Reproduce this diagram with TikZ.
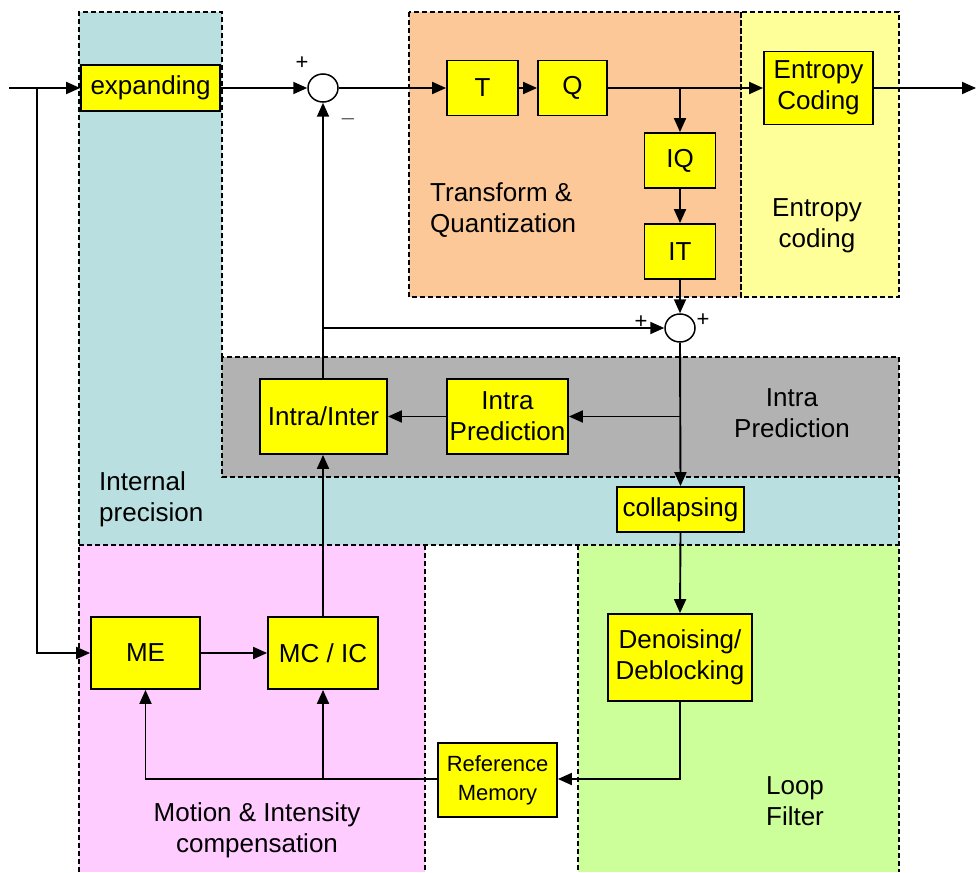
\documentclass[tikz,border=0pt]{standalone}
\usepackage{fontspec}
\setmainfont{Liberation Sans}
\usetikzlibrary{arrows.meta,shapes.geometric}
\definecolor{cBlue}{RGB}{185,223,225}
\definecolor{cOrange}{RGB}{252,200,152}
\definecolor{cEnt}{RGB}{255,255,153}
\definecolor{cGray}{RGB}{178,178,178}
\definecolor{cPink}{RGB}{255,204,255}
\definecolor{cGreen}{RGB}{204,255,153}
\definecolor{cBox}{RGB}{255,255,0}
\tikzset{
  blk/.style={draw=black, line width=1.8pt, fill=cBox, inner sep=0pt, align=center,
    font=\fontsize{26}{31}\selectfont},
  sumc/.style={draw=black, line width=1.5pt, fill=white, ellipse, minimum width=30pt, minimum height=28pt, inner sep=0pt},
  conn/.style={line width=1.9pt, -{Triangle[length=14pt,width=12pt]}},
  region/.style={line width=1.2pt, dash pattern=on 5pt off 3pt},
  lbl/.style={font=\fontsize{26}{31}\selectfont, align=center, inner sep=0pt},
  pm/.style={font=\fontsize{22}{22}\selectfont, inner sep=0pt}
}
\begin{document}
\begin{tikzpicture}[x=1pt,y=-1pt]
\useasboundingbox (0,0) rectangle (976,872);
% region fills
\fill[cBlue] (79,12) -- (222,12) -- (222,357) -- (899,357) -- (899,545) -- (79,545) -- cycle;
\fill[cGray] (222,357) rectangle (899,477);
\fill[cOrange] (409,12) rectangle (741,297);
\fill[cEnt] (741,12) rectangle (899,297);
\fill[cPink] (79,545) rectangle (425,872);
\fill[cGreen] (578,545) rectangle (899,872);
% region borders
\draw[region] (79,872) -- (79,12) -- (222,12) -- (222,357);
\draw[region] (222,357) rectangle (899,477);
\draw[region] (899,477) -- (899,872);
\draw[region] (79,545) -- (899,545);
\draw[region] (425,545) -- (425,872);
\draw[region] (578,545) -- (578,872);
\draw[region] (409,12) rectangle (741,297);
\draw[region] (741,12) rectangle (899,297);
% region labels
\node[lbl, anchor=west, align=left] (lInt) at (99,499) {Internal\\precision};
\node[lbl, anchor=west, align=left] (lTQ) at (430,210) {Transform \&\\Quantization};
\node[lbl] (lEnt) at (817,226) {Entropy\\coding};
\node[lbl] (lIP) at (792,413) {Intra\\Prediction};
\node[lbl] (lMC) at (257,830) {Motion \& Intensity\\compensation};
\node[lbl] (lLF) at (795,801) {Loop\\Filter};
% blocks
\node[blk, minimum width=139pt, minimum height=46pt] (exp) at (150.5,88) {expanding};
\node[sumc] (s1) at (323,88) {};
\node[blk, minimum width=71pt, minimum height=55pt] (T) at (482.5,88) {T};
\node[blk, minimum width=69pt, minimum height=55pt] (Q) at (572.5,88) {Q};
\node[blk, minimum width=109pt, minimum height=73pt] (EC) at (818.5,88) {Entropy\\Coding};
\node[blk, minimum width=71pt, minimum height=55pt] (IQ) at (680,160.5) {IQ};
\node[blk, minimum width=71pt, minimum height=55pt] (IT) at (680,251.5) {IT};
\node[sumc] (s2) at (680,328) {};
\node[blk, minimum width=127pt, minimum height=75pt] (II) at (323.5,416.5) {Intra/Inter};
\node[blk, minimum width=121pt, minimum height=75pt] (IP) at (507.5,416.5) {Intra\\Prediction};
\node[blk, minimum width=127pt, minimum height=45pt] (col) at (680.5,509.5) {collapsing};
\node[blk, minimum width=109pt, minimum height=72pt] (ME) at (145.5,653) {ME};
\node[blk, minimum width=110pt, minimum height=72pt] (MC) at (323,653) {MC / IC};
\node[blk, minimum width=144pt, minimum height=87pt] (DN) at (680,657.5) {Denoising/\\Deblocking};
\node[blk, minimum width=119pt, minimum height=74pt, font=\fontsize{22}{29}\selectfont] (RM) at (497.5,780) {Reference\\Memory};
% signs
\node[pm] (p1) at (302,63) {+};
\node[pm] (m1) at (348,119) {$-$};
\node[pm] (p2) at (641,322) {+};
\node[pm] (p3) at (703,320) {+};
% coordinates
\coordinate (in) at (9,88);
\coordinate (br0) at (37,88);
\coordinate (br0d) at (37,653);
\coordinate (out) at (976,88);
\coordinate (brq) at (680,88);
\coordinate (bri) at (680,416.5);
\coordinate (brs) at (323,328);
\coordinate (dnb) at (680,779);
\coordinate (mcb) at (323,779);
\coordinate (meb) at (145.5,779);
% connectors
\draw[conn] (in) -- (exp.west);
\draw[conn] (br0) -- (br0d) -- (ME.west);
\draw[conn] (exp.east) -- (s1.west);
\draw[conn] (s1.east) -- (T.west);
\draw[conn] (T.east) -- (Q.west);
\draw[conn] (Q.east) -- (EC.west);
\draw[conn] (brq) -- (IQ.north);
\draw[conn] (EC.east) -- (out);
\draw[conn] (IQ.south) -- (IT.north);
\draw[conn] (IT.south) -- (s2.north);
\draw[conn] (s2.south) -- (col.north);
\draw[conn] (bri) -- (IP.east);
\draw[conn] (IP.west) -- (II.east);
\draw[conn] (II.north -| s1.south) -- (s1.south);
\draw[conn] (brs) -- (s2.west);
\draw[conn] (MC.north) -- (MC.north |- II.south);
\draw[conn] (ME.east) -- (MC.west);
\draw[conn] (col.south) -- (DN.north);
\draw[conn] (DN.south) -- (dnb) -- (RM.east |- dnb);
\draw[conn] (RM.west |- meb) -- (meb) -- (ME.south);
\draw[conn] (mcb) -- (MC.south);
\end{tikzpicture}
\end{document}
